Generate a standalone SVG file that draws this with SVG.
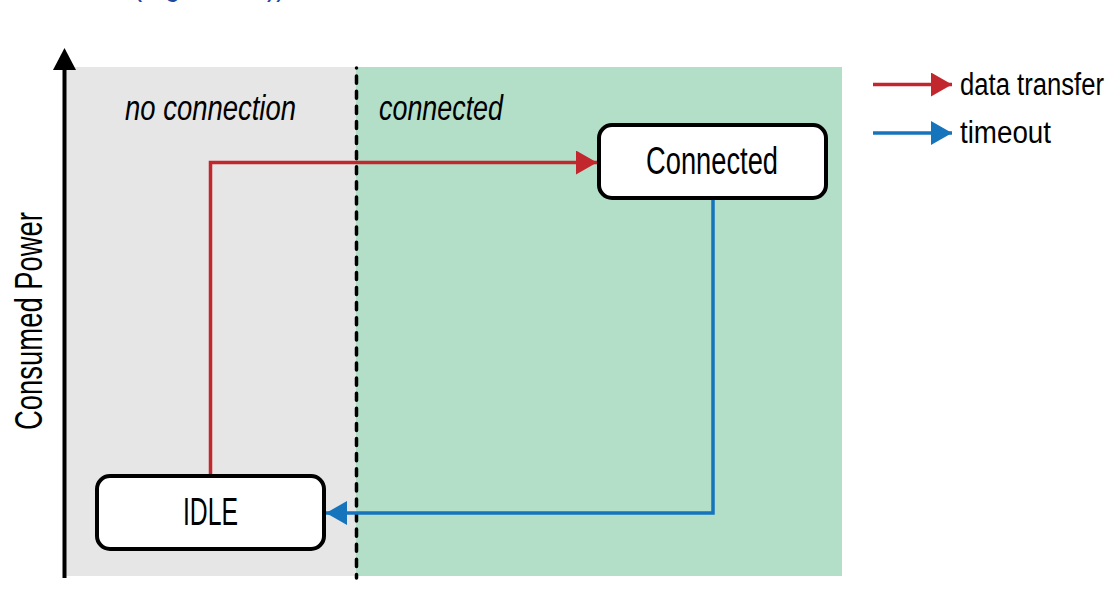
<svg xmlns="http://www.w3.org/2000/svg" width="1118" height="598" viewBox="0 0 1118 598">
  <style>
    .lbl { font-family: "Liberation Sans", Arial, sans-serif; fill: #000; }
    .zone { font-size: 35px; font-style: italic; }
    .node rect { fill: #fff; stroke: #000; stroke-width: 4; }
    .node text { font-size: 38px; }
    .leg { font-size: 31px; }
    .red { stroke: #c1272d; stroke-width: 3.5; fill: none; }
    .blue { stroke: #1574bb; stroke-width: 3.5; fill: none; }
  </style>
  <defs>
    <marker id="ar" markerUnits="userSpaceOnUse" markerWidth="24" markerHeight="24" refX="21" refY="12" orient="auto">
      <path d="M0,0 L21,12 L0,24 Z" fill="#c1272d"/>
    </marker>
    <marker id="ab" markerUnits="userSpaceOnUse" markerWidth="24" markerHeight="24" refX="21" refY="12" orient="auto">
      <path d="M0,0 L21,12 L0,24 Z" fill="#1574bb"/>
    </marker>
  </defs>

  <rect width="1118" height="598" fill="#fff"/>

  <text x="133" y="-5" class="lbl" style="font-size:34px;fill:#1f48a0" textLength="160" lengthAdjust="spacingAndGlyphs">(Figure 2-1)),</text>

  <g id="zones">
    <rect x="66" y="67" width="290" height="509" fill="#e6e6e6"/>
    <rect x="356" y="67" width="486" height="509" fill="#b3dec8"/>
    <line x1="356.5" y1="68" x2="356.5" y2="578" stroke="#000" stroke-width="3.5" stroke-dasharray="0.1 8 7 0" stroke-linecap="round"/>
    <text x="125" y="120" class="lbl zone" textLength="171" lengthAdjust="spacingAndGlyphs">no connection</text>
    <text x="379" y="120" class="lbl zone" textLength="124" lengthAdjust="spacingAndGlyphs">connected</text>
  </g>

  <g id="axis">
    <line x1="64.5" y1="578" x2="64.5" y2="66" stroke="#000" stroke-width="4"/>
    <path d="M53,70 L64.5,48 L76,70 Z" fill="#000"/>
    <text class="lbl" style="font-size:38px" transform="translate(42,430) rotate(-90)" textLength="218" lengthAdjust="spacingAndGlyphs">Consumed Power</text>
  </g>

  <g id="connectors">
    <polyline class="red" points="210.5,476 210.5,162.5 597,162.5" marker-end="url(#ar)"/>
    <polyline class="blue" points="713,198 713,513 326,513" marker-end="url(#ab)"/>
  </g>

  <g id="node-connected" class="node">
    <rect x="599" y="125" width="227" height="73" rx="13"/>
    <text x="646" y="174" class="lbl" textLength="132" lengthAdjust="spacingAndGlyphs">Connected</text>
  </g>

  <g id="node-idle" class="node">
    <rect x="97" y="476" width="227" height="73" rx="13"/>
    <text x="183" y="525" class="lbl" textLength="55" lengthAdjust="spacingAndGlyphs">IDLE</text>
  </g>

  <g id="legend">
    <line class="red" x1="873" y1="84.5" x2="952" y2="84.5" marker-end="url(#ar)"/>
    <text x="960" y="95" class="lbl leg" textLength="144" lengthAdjust="spacingAndGlyphs">data transfer</text>
    <line class="blue" x1="873" y1="133" x2="952" y2="133" marker-end="url(#ab)"/>
    <text x="960" y="143" class="lbl leg" textLength="91" lengthAdjust="spacingAndGlyphs">timeout</text>
  </g>
</svg>
